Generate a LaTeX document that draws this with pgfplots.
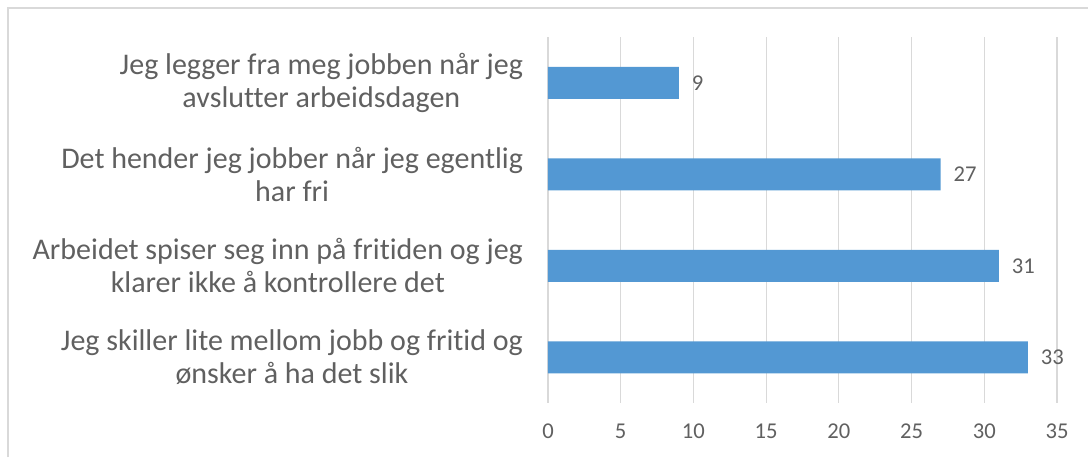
\documentclass[border=0pt]{standalone}
\usepackage{pgfplots}
\pgfplotsset{compat=1.18}
\usepackage{fontspec}
\setmainfont{Carlito}[Ligatures={NoCommon}]
\definecolor{barblue}{RGB}{83,152,211}
\definecolor{txt}{RGB}{96,96,96}
\definecolor{gridc}{RGB}{217,217,217}
\begin{document}
\begin{tikzpicture}
\useasboundingbox (0,0) rectangle (544pt,228.5pt);
\draw[gridc, line width=0.6pt] (4pt,0) -- (4pt,224.5pt) -- (544pt,224.5pt);
\begin{axis}[
  at={(274pt,27pt)}, anchor=south west,
  scale only axis, width=254.5pt, height=183pt,
  xbar, bar width=16pt,
  xmin=0, xmax=35, xtick={0,5,...,35},
  ymin=-0.5, ymax=3.5, y dir=reverse,
  ytick={0,1,2,3},
  yticklabels={{Jeg legger fra meg jobben når jeg\\avslutter arbeidsdagen},
    {Det hender jeg jobber når jeg egentlig\\har fri},
    {Arbeidet spiser seg inn på fritiden og jeg\\klarer ikke å kontrollere det},
    {Jeg skiller lite mellom jobb og fritid og\\ønsker å ha det slik}},
  axis line style={draw=none},
  major tick length=0pt,
  xmajorgrids, grid style={gridc, line width=0.6pt},
  /pgf/number format/assume math mode=true,
  xticklabel style={font=\fontsize{11.3}{13}\selectfont, text=txt, yshift=-7pt},
  yticklabel style={align=center, font=\fontsize{15}{16.5}\selectfont, text=txt, xshift=-9pt},
  clip=false,
]
\addplot[fill=barblue, draw=none, nodes near coords,
  nodes near coords style={anchor=west, font=\fontsize{11.3}{13}\selectfont, text=txt, xshift=3pt}]
  coordinates {(9,0) (27,1) (31,2) (33,3)};
\end{axis}
\end{tikzpicture}
\end{document}
